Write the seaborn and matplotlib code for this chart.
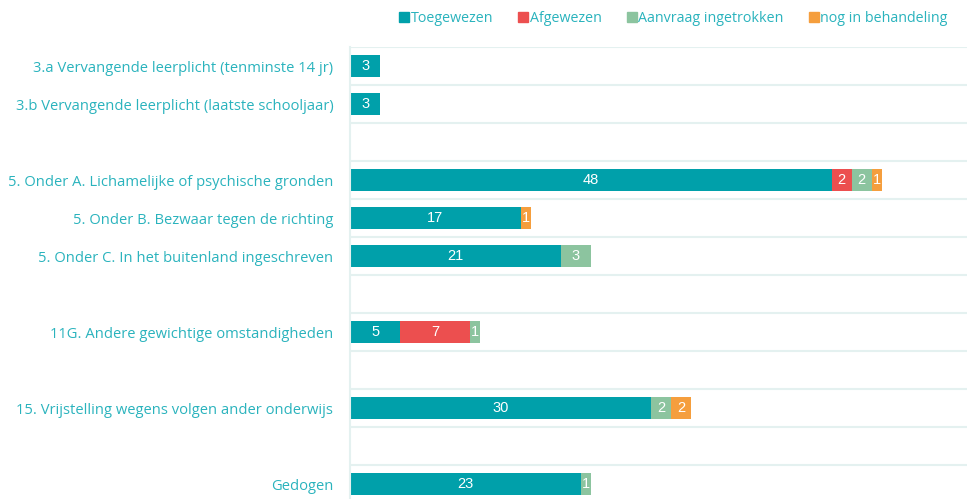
import pandas as pd
import numpy as np
import seaborn as sns
import matplotlib.pyplot as plt
from matplotlib.lines import Line2D

# Rows of the chart (None = empty spacer row)
row_labels = ['3.a Vervangende leerplicht (tenminste 14 jr)',
              '3.b Vervangende leerplicht (laatste schooljaar)',
              None,
              '5. Onder A. Lichamelijke of psychische gronden',
              '5. Onder B. Bezwaar tegen de richting',
              '5. Onder C. In het buitenland ingeschreven',
              None,
              '11G. Andere gewichtige omstandigheden',
              None,
              '15. Vrijstelling wegens volgen ander onderwijs',
              None,
              'Gedogen']

series = ['Toegewezen', 'Afgewezen', 'Aanvraag ingetrokken', 'nog in behandeling']
toegewezen = [3, 3, 0, 48, 17, 21, 0, 5, 0, 30, 0, 23]
afgewezen = [0, 0, 0, 2, 0, 0, 0, 7, 0, 0, 0, 0]
ingetrokken = [0, 0, 0, 2, 0, 3, 0, 1, 0, 2, 0, 1]
in_behandeling = [0, 0, 0, 1, 1, 0, 0, 0, 0, 2, 0, 0]

colors = ['#00a0aa', '#ec4f4f', '#8cc49f', '#f59e3d']
text_col = '#2ab3bd'
grid_col = '#e4f1f0'

keys = ['r%d' % i for i in range(len(row_labels))]
df = pd.DataFrame({'row': keys, 'Toegewezen': toegewezen, 'Afgewezen': afgewezen,
                   'Aanvraag ingetrokken': ingetrokken, 'nog in behandeling': in_behandeling})
cum = df[series].cumsum(axis=1)

sns.set_style('white')
plt.rcParams['font.family'] = ['Open Sans', 'DejaVu Sans']

fig = plt.figure(figsize=(9.67, 4.99), dpi=100)
ax = fig.add_axes([350 / 967, -4 / 499, 617 / 967, 456 / 499])

# stacked bars: draw cumulative totals from the last series back to the first
for s, c in reversed(list(zip(series, colors))):
    sns.barplot(x=cum[s], y=df['row'], order=keys, orient='h', color=c,
                width=0.58, ax=ax, saturation=1, linewidth=0)

# segment labels
for i in range(len(df)):
    left = 0
    for s in series:
        v = df.loc[i, s]
        if v > 0:
            ax.text(left + v / 2, i, str(v), ha='center', va='center', color='white',
                    fontsize=10.5, family='Liberation Sans')
        left += v

ax.set_xlim(0, 61.5)
ax.set_ylim(len(keys) - 0.5, -0.5)
ax.set_xlabel('')
ax.set_ylabel('')
ax.set_xticks([])
ax.set_yticks(range(len(keys)))
ax.set_yticklabels([l if l else '' for l in row_labels], color=text_col, fontsize=10.6)
ax.tick_params(axis='y', length=0, pad=12)
ax.set_yticks(np.arange(-0.5, len(keys), 1), minor=True)
ax.tick_params(axis='y', which='minor', length=0)
ax.grid(axis='y', which='minor', color=grid_col, linewidth=1.5)
ax.grid(axis='y', which='major', visible=False)
ax.set_axisbelow(True)
for sp in ['top', 'right', 'bottom']:
    ax.spines[sp].set_visible(False)
ax.spines['left'].set_color(grid_col)
ax.spines['left'].set_linewidth(1.5)

handles = [Line2D([], [], marker='s', linestyle='', color=c, markersize=7) for c in colors]
leg = fig.legend(handles, series, loc='center right', bbox_to_anchor=(0.993, 0.962),
                 ncol=4, frameon=False, fontsize=10.3, handlelength=0.6,
                 handletextpad=0.15, columnspacing=1.8)
for t in leg.get_texts():
    t.set_color(text_col)

fig.savefig('out.png', dpi=100)
